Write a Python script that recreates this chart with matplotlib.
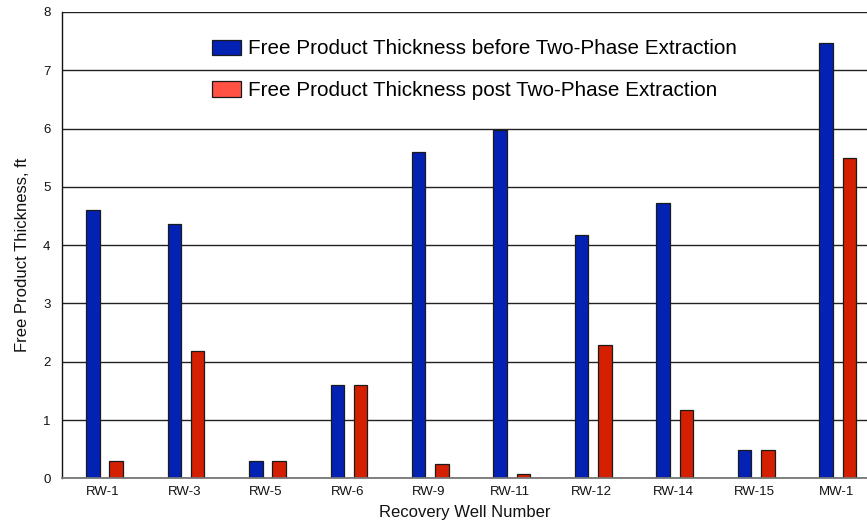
import matplotlib
matplotlib.use("Agg")
import matplotlib.pyplot as plt
from matplotlib.patches import Patch
import numpy as np

plt.rcParams['font.family'] = ['Liberation Sans', 'DejaVu Sans']

wells = ["RW-1", "RW-3", "RW-5", "RW-6", "RW-9", "RW-11", "RW-12", "RW-14", "RW-15", "MW-1"]
before = [4.60, 4.37, 0.30, 1.60, 5.60, 5.97, 4.18, 4.72, 0.48, 7.46]
post = [0.30, 2.19, 0.30, 1.60, 0.24, 0.07, 2.29, 1.18, 0.48, 5.49]
yticks = [0, 1, 2, 3, 4, 5, 6, 7, 8]
label_before = "Free Product Thickness before Two-Phase Extraction"
label_post = "Free Product Thickness post Two-Phase Extraction"

W, H = 867, 523
fig = plt.figure(figsize=(W / 100, H / 100), dpi=100)
left, right, bottom, top = 62.3, 877.0, 478.3, 12.0
ax = fig.add_axes([left / W, 1 - bottom / H, (right - left) / W, (bottom - top) / H])

x = np.arange(len(wells))
bw = 0.165
blue_bar = "#0322b4"
red_bar = "#d42000"
ax.bar(x - 0.125, before, width=bw, color=blue_bar, edgecolor="#1a1a1a", linewidth=0.9, zorder=3)
ax.bar(x + 0.16, post, width=bw, color=red_bar, edgecolor="#1a1a1a", linewidth=0.9, zorder=3)

ax.set_xlim(-0.5, len(wells) - 0.5)
ax.set_ylim(0, 8)
ax.set_yticks(yticks)
ax.set_yticklabels([str(t) for t in yticks])
ax.set_xticks(x)
ax.set_xticklabels(wells)
ax.tick_params(axis='both', length=0, labelsize=9.5, colors="#111111")
ax.tick_params(axis='y', pad=8.5)
ax.tick_params(axis='x', pad=5.5)

ax.yaxis.grid(True, color="#222222", linewidth=1.0, zorder=0)
ax.set_axisbelow(True)
for s in ["top", "right"]:
    ax.spines[s].set_visible(False)
ax.spines["left"].set_color("#111111")
ax.spines["left"].set_linewidth(1.0)
ax.spines["bottom"].set_color("#777777")
ax.spines["bottom"].set_linewidth(1.3)
ax.spines["bottom"].set_zorder(4)

ax.set_xlabel("Recovery Well Number", fontsize=12, color="#111111")
ax.set_ylabel("Free Product Thickness, ft", fontsize=12, color="#111111")
ax.xaxis.set_label_coords(0.494, -0.057)
ax.yaxis.set_label_coords(-0.04, 0.48)

handles = [Patch(facecolor="#0322b4", edgecolor="#1a1a1a", linewidth=0.9, label=label_before),
           Patch(facecolor="#ff5244", edgecolor="#1a1a1a", linewidth=0.9, label=label_post)]
fig.legend(handles=handles, loc="upper left", bbox_to_anchor=(212 / W, 1 - 39.5 / H),
           frameon=False, fontsize=14.85, handlelength=1.42, handleheight=0.78,
           handletextpad=0.33, labelspacing=1.1, borderpad=0, borderaxespad=0)

fig.savefig("out.png", dpi=100)
